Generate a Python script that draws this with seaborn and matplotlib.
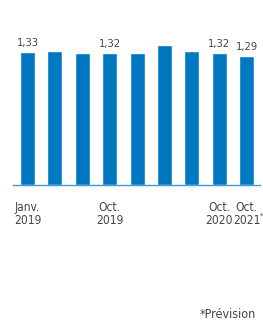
import pandas as pd
import matplotlib.pyplot as plt
import seaborn as sns

periods = ["Janv. 2019", "Avr. 2019", "Juil. 2019", "Oct. 2019", "Janv. 2020",
           "Avr. 2020", "Juil. 2020", "Oct. 2020", "Oct. 2021"]
values = [1.33, 1.34, 1.32, 1.32, 1.32, 1.40, 1.34, 1.32, 1.29]
tick_labels = ["Janv.\n2019", "", "", "Oct.\n2019", "", "", "", "Oct.\n2020", "Oct.\n2021"]
shown_values = [True, False, False, True, False, False, False, True, True]

FONT = ["DejaVu Sans"]
BLUE = "#0078c1"
GREY = "#444444"


def main():
    sns.set_style("white")
    plt.rcParams["font.family"] = FONT
    plt.rcParams["font.stretch"] = "condensed"

    df = pd.DataFrame({"period": periods, "value": values})

    fig = plt.figure(figsize=(2.63, 3.23), dpi=100)
    ax = fig.add_axes([13 / 263, 138 / 323, 247 / 263, 165 / 323])

    sns.barplot(data=df, x="period", y="value", order=periods, color=BLUE,
                width=0.55, saturation=1, ax=ax)

    labels = [f"{v:.2f}".replace(".", ",") if s else "" for v, s in zip(values, shown_values)]
    ax.bar_label(ax.containers[0], labels=labels, padding=3, fontsize=8, color=GREY)

    ax.set_ylim(0, 1.65)
    ax.set_xlim(-0.53, 8.49)
    ax.set_yticks([])
    ax.set_xticks(range(len(periods)))
    ax.set_xticklabels(tick_labels, fontsize=8.6, color=GREY, linespacing=1.0)
    ax.tick_params(axis="x", length=0, pad=11.5)
    ax.set_xlabel("")
    ax.set_ylabel("")

    for side in ["top", "right", "left"]:
        ax.spines[side].set_visible(False)
    ax.spines["bottom"].set_color("#3d9ad9")
    ax.spines["bottom"].set_linewidth(1.0)

    # small forecast marker next to the last label
    ax.annotate("*", xy=(8, 0), xycoords=("data", "axes fraction"),
                xytext=(9.6, -22), textcoords="offset points",
                fontsize=5, color=GREY, ha="left", va="center")

    fig.text(256 / 263, 1 - 318 / 323, "*Prévision", fontsize=9, color=GREY,
             ha="right", va="baseline")

    fig.savefig("out.png", dpi=100)


if __name__ == "__main__":
    main()
